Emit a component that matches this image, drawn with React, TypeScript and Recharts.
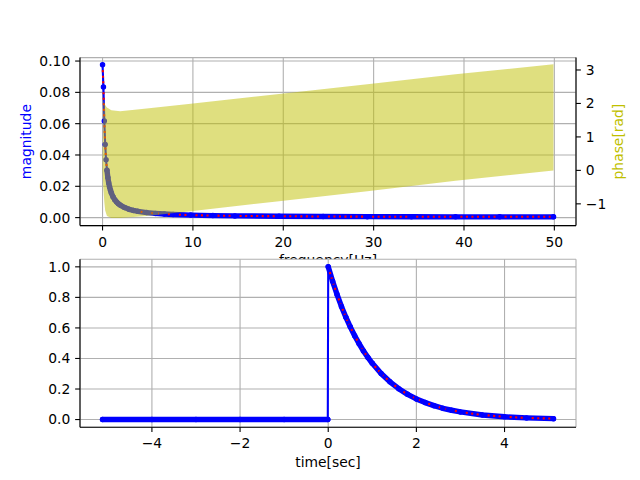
import React from 'react';
import { ComposedChart, Line, Area, XAxis, YAxis, CartesianGrid } from 'recharts';

const FONT = '"DejaVu Sans", sans-serif';
const FS = 13.89;

// ---- Top subplot: spectrum ----
const freqHz = [0, 0.098, 0.195, 0.293, 0.391, 0.488, 0.586, 0.684, 0.781, 0.879, 0.977, 1.172, 1.367, 1.563, 1.758, 1.953, 2.441, 2.93, 3.418, 3.906, 4.883, 5.859, 6.836, 7.813, 9.766, 12.207, 14.648, 19.531, 24.414, 29.297, 34.18, 39.063, 43.945, 49.902];
const magnitude = [0.0977, 0.0835, 0.0617, 0.0467, 0.0369, 0.0303, 0.0256, 0.0221, 0.0195, 0.0174, 0.0157, 0.0131, 0.0113, 0.0099, 0.0088, 0.008, 0.0064, 0.0053, 0.0046, 0.004, 0.0032, 0.0027, 0.0023, 0.002, 0.0016, 0.0013, 0.0011, 0.0009, 0.0007, 0.0006, 0.0006, 0.0005, 0.0005, 0.0005];
// phase envelope (the dense phase trace appears as a band)
const phaseLow: (number | null)[] = [0, -0.55, -0.95, -1.2, null, -1.36, null, null, null, null, -1.42, null, null, null, null, -1.42, null, null, null, null, -1.36, null, null, null, -1.22, null, null, -0.92, null, -0.62, null, -0.31, null, 0.0];
const phaseHigh: (number | null)[] = [0, 2.1, 2.02, 1.95, null, 1.88, null, null, null, null, 1.8, null, null, null, null, 1.77, null, null, null, null, 1.85, null, null, null, 1.99, null, null, 2.28, null, 2.57, null, 2.87, null, 3.17];
const freqTicks = [0, 10, 20, 30, 40, 50];
const magTicks = [0, 0.02, 0.04, 0.06, 0.08, 0.1];
const phaseTicks = [-1, 0, 1, 2, 3];
const F_DOMAIN: [number, number] = [-2.495, 52.395];
const MAG_DOMAIN: [number, number] = [-0.0051, 0.1022];
const PH_DOMAIN: [number, number] = [-1.65, 3.37];
const BAND_START = 5;

// ---- Bottom subplot: time signal ----
const timeSec = [-5.12, -4, -3, -2, -1, -0.01, 0, 0.1, 0.2, 0.3, 0.4, 0.5, 0.6, 0.7, 0.8, 0.9, 1.0, 1.2, 1.4, 1.6, 1.8, 2.0, 2.2, 2.4, 2.6, 2.8, 3.0, 3.5, 4.0, 4.5, 5.11];
const signal = [0, 0, 0, 0, 0, 0, 1.0, 0.905, 0.819, 0.741, 0.67, 0.607, 0.549, 0.497, 0.449, 0.407, 0.368, 0.301, 0.247, 0.202, 0.165, 0.135, 0.111, 0.091, 0.074, 0.061, 0.05, 0.03, 0.018, 0.011, 0.006];
const timeTicks = [-4, -2, 0, 2, 4];
const sigTicks = [0, 0.2, 0.4, 0.6, 0.8, 1.0];
const T_DOMAIN: [number, number] = [-5.6315, 5.6215];
const S_DOMAIN: [number, number] = [-0.05, 1.05];

const specData = freqHz.map((f, i) => ({
  f,
  mag: magnitude[i],
  magBand: i >= BAND_START ? magnitude[i] : null,
  pLow: phaseLow[i],
  pHigh: phaseHigh[i],
}));

const timeData = timeSec.map((t, i) => ({
  t,
  x: signal[i],
  neg: t < 0 ? signal[i] : null,
  pos: t >= 0 ? signal[i] : null,
}));

const minus = (s: string) => s.replace('-', '\u2212');
const tickStyle = { fill: '#000', fontSize: FS, fontFamily: FONT };
const lineStyle = { stroke: '#000', strokeWidth: 1.1 };
const TICK = 4.86;
const phaseRange = (d: any) => (d.pLow == null || d.pHigh == null ? null : [d.pLow, d.pHigh]);

const abs: React.CSSProperties = { position: 'absolute', left: 0, top: 0 };
const TOP_MARGIN = { top: 57.6, right: 14, bottom: 224.4, left: 20 };

export default function App() {
  return (
    <div style={{ position: 'absolute', left: 0, top: 0, width: 640, height: 480, background: '#fff', overflow: 'hidden' }}>
      <div style={abs}>
        <ComposedChart width={640} height={480} data={specData} margin={TOP_MARGIN}>
          <CartesianGrid xAxisId="f" yAxisId="mag" stroke="#b0b0b0" strokeWidth={1.1} fill="#fff" />
          <XAxis xAxisId="f" dataKey="f" type="number" domain={F_DOMAIN} allowDataOverflow ticks={freqTicks} interval={0}
            height={30} tickSize={TICK} tickMargin={6.3} tick={tickStyle} tickLine={lineStyle} axisLine={lineStyle}
            tickFormatter={(v: number) => minus(String(v))} />
          <XAxis xAxisId="fTop" dataKey="f" orientation="top" type="number" domain={F_DOMAIN} allowDataOverflow
            height={0} tick={false} tickLine={false} axisLine={lineStyle} />
          <YAxis yAxisId="mag" type="number" domain={MAG_DOMAIN} allowDataOverflow ticks={magTicks} interval={0}
            width={60} tickSize={TICK} tickMargin={4.86} tick={tickStyle} tickLine={lineStyle} axisLine={lineStyle}
            tickFormatter={(v: number) => v.toFixed(2)} />
          <YAxis yAxisId="ph" orientation="right" type="number" domain={PH_DOMAIN} allowDataOverflow ticks={phaseTicks} interval={0}
            width={50} tickSize={TICK} tickMargin={5} tick={tickStyle} tickLine={lineStyle} axisLine={lineStyle}
            tickFormatter={(v: number) => minus(String(v))} />
          <Line xAxisId="f" yAxisId="mag" dataKey="magBand" type="linear" stroke="#0000ff" strokeWidth={5.4}
            strokeLinecap="round" strokeLinejoin="round" dot={false} activeDot={false} isAnimationActive={false} />
          <Line xAxisId="f" yAxisId="mag" dataKey="mag" type="linear" stroke="#0000ff" strokeWidth={2.08}
            dot={{ r: 2.2, fill: '#0000ff', stroke: '#0000ff', strokeWidth: 1.1 }} activeDot={false} isAnimationActive={false} />
          <Line xAxisId="f" yAxisId="mag" dataKey="mag" type="linear" stroke="#ff0000" strokeWidth={2.08}
            strokeDasharray="2.08 3.44" dot={false} activeDot={false} isAnimationActive={false} />
        </ComposedChart>
      </div>
      <div style={abs}>
        <ComposedChart width={640} height={480} data={specData} margin={TOP_MARGIN}>
          <XAxis xAxisId="f" dataKey="f" type="number" domain={F_DOMAIN} allowDataOverflow
            height={30} tick={false} tickLine={false} axisLine={false} />
          <YAxis yAxisId="mag" type="number" domain={MAG_DOMAIN} allowDataOverflow
            width={60} tick={false} tickLine={false} axisLine={false} />
          <YAxis yAxisId="ph" orientation="right" type="number" domain={PH_DOMAIN} allowDataOverflow
            width={50} tick={false} tickLine={false} axisLine={false} />
          <Area xAxisId="f" yAxisId="ph" dataKey={phaseRange} type="linear" fill="#bfbf00" fillOpacity={0.5}
            stroke="none" connectNulls dot={false} activeDot={false} isAnimationActive={false} />
        </ComposedChart>
      </div>
      <svg width={640} height={480} style={abs}>
        <text x={328} y={264.9} textAnchor="middle" fontSize={FS} fontFamily={FONT} fill="#000">frequency[Hz]</text>
        <text transform="translate(30.5,141.6) rotate(-90)" textAnchor="middle" fontSize={FS} fontFamily={FONT} fill="#0000ff">magnitude</text>
        <text transform="translate(623,141.6) rotate(-90)" textAnchor="middle" fontSize={FS} fontFamily={FONT} fill="#bfbf00">phase[rad]</text>
        <text x={328} y={466.5} textAnchor="middle" fontSize={FS} fontFamily={FONT} fill="#000">time[sec]</text>
      </svg>
      <div style={abs}>
        <ComposedChart width={640} height={480} data={timeData} margin={{ top: 259.2, right: 64, bottom: 22.8, left: 20 }}>
          <CartesianGrid xAxisId="t" yAxisId="s" stroke="#b0b0b0" strokeWidth={1.1} fill="#fff" fillOpacity={1} />
          <XAxis xAxisId="t" dataKey="t" type="number" domain={T_DOMAIN} allowDataOverflow ticks={timeTicks} interval={0}
            height={30} tickSize={TICK} tickMargin={6.3} tick={tickStyle} tickLine={lineStyle} axisLine={lineStyle}
            tickFormatter={(v: number) => minus(String(v))} />
          <XAxis xAxisId="tTop" dataKey="t" orientation="top" type="number" domain={T_DOMAIN} allowDataOverflow
            height={0} tick={false} tickLine={false} axisLine={lineStyle} />
          <YAxis yAxisId="s" type="number" domain={S_DOMAIN} allowDataOverflow ticks={sigTicks} interval={0}
            width={60} tickSize={TICK} tickMargin={4.86} tick={tickStyle} tickLine={lineStyle} axisLine={lineStyle}
            tickFormatter={(v: number) => v.toFixed(1)} />
          <YAxis yAxisId="sRight" orientation="right" type="number" domain={S_DOMAIN} allowDataOverflow
            width={0} tick={false} tickLine={false} axisLine={lineStyle} />
          <Line xAxisId="t" yAxisId="s" dataKey="neg" type="linear" stroke="#0000ff" strokeWidth={5.4}
            strokeLinecap="round" strokeLinejoin="round" dot={false} activeDot={false} isAnimationActive={false} />
          <Line xAxisId="t" yAxisId="s" dataKey="pos" type="linear" stroke="#0000ff" strokeWidth={5.4}
            strokeLinecap="round" strokeLinejoin="round" dot={false} activeDot={false} isAnimationActive={false} />
          <Line xAxisId="t" yAxisId="s" dataKey="x" type="linear" stroke="#0000ff" strokeWidth={2.08}
            dot={{ r: 2.2, fill: '#0000ff', stroke: '#0000ff', strokeWidth: 1.1 }} activeDot={false} isAnimationActive={false} />
          <Line xAxisId="t" yAxisId="s" dataKey="pos" type="linear" stroke="#ff0000" strokeWidth={2.08}
            strokeDasharray="2.08 3.44" dot={false} activeDot={false} isAnimationActive={false} />
        </ComposedChart>
      </div>
    </div>
  );
}
